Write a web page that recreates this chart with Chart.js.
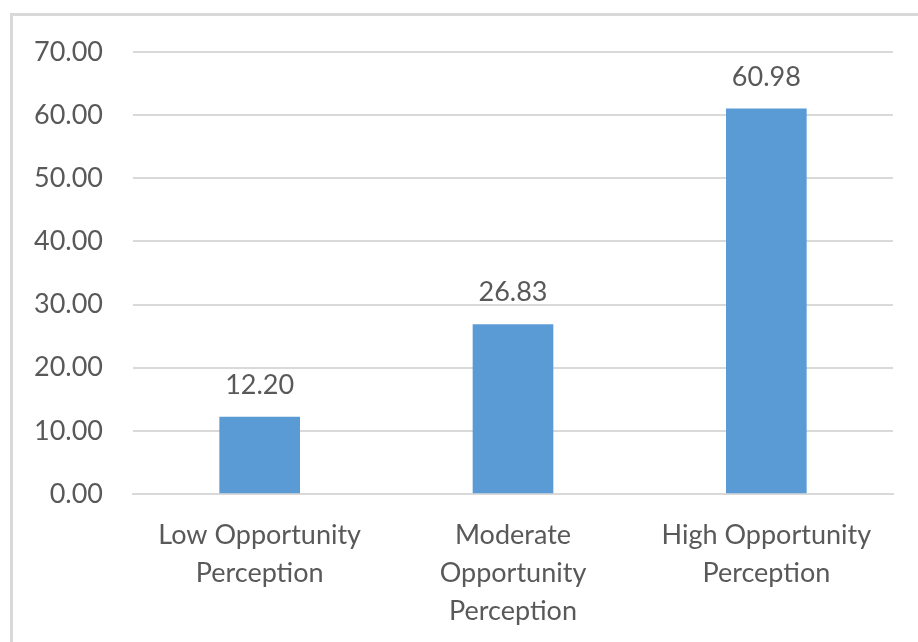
<!DOCTYPE html>
<html>
<head>
<meta charset="utf-8">
<script src="https://cdn.jsdelivr.net/npm/chart.js@4"></script>
<style>
  html, body { margin: 0; padding: 0; background: #ffffff; }
  #wrap { position: relative; width: 918px; height: 642px; overflow: hidden; }
  #frame { position: absolute; left: 10px; top: 13px; width: 1000px; height: 1000px;
           border-left: 3px solid #d9d9d9; border-top: 3px solid #d9d9d9; box-sizing: border-box; }
  #chart { position: absolute; left: 0; top: 0; }
</style>
</head>
<body>
<div id="wrap">
  <div id="frame"></div>
  <canvas id="chart" width="918" height="642"></canvas>
</div>
<script>
const categories = [
  ["Low Opportunity", "Perception"],
  ["Moderate", "Opportunity", "Perception"],
  ["High Opportunity", "Perception"]
];
const values = [12.20, 26.83, 60.98];
const yTicks = [0, 10, 20, 30, 40, 50, 60, 70];

const FONT = "Lato, 'Open Sans', sans-serif";
const FONT_SIZE = 27;
const TEXT = "#595959";

// Writes each bar's value just above it
const valueLabels = {
  id: "valueLabels",
  afterDatasetsDraw(chart) {
    const ctx = chart.ctx;
    const meta = chart.getDatasetMeta(0);
    ctx.save();
    ctx.font = FONT_SIZE + "px " + FONT;
    ctx.fillStyle = TEXT;
    ctx.textAlign = "center";
    ctx.textBaseline = "middle";
    meta.data.forEach((bar, i) => {
      ctx.fillText(values[i].toFixed(2), bar.x, bar.y - 32);
    });
    ctx.restore();
  }
};

new Chart(document.getElementById("chart"), {
  type: "bar",
  data: {
    labels: categories,
    datasets: [{
      data: values,
      backgroundColor: "#5b9bd5",
      borderWidth: 0,
      barThickness: 80
    }]
  },
  options: {
    responsive: false,
    animation: false,
    layout: { padding: { left: 0, right: 25, top: 52, bottom: 0 } },
    plugins: { legend: { display: false }, tooltip: { enabled: false } },
    scales: {
      x: {
        grid: { display: false, drawTicks: false },
        border: { display: true, color: "#d9d9d9", width: 2 },
        ticks: {
          color: TEXT,
          font: { family: FONT, size: FONT_SIZE, lineHeight: 38 / FONT_SIZE },
          padding: 22,
          maxRotation: 0,
          autoSkip: false
        },
        afterFit(scale) { scale.height = 148; }
      },
      y: {
        min: 0,
        max: 70,
        afterBuildTicks(scale) { scale.ticks = yTicks.map(v => ({ value: v })); },
        grid: { color: "#d9d9d9", lineWidth: 2, drawTicks: false },
        border: { display: false },
        ticks: {
          color: TEXT,
          font: { family: FONT, size: FONT_SIZE },
          padding: 30,
          callback: v => Number(v).toFixed(2)
        },
        afterFit(scale) { scale.width = 133; }
      }
    }
  },
  plugins: [valueLabels]
});
</script>
</body>
</html>
